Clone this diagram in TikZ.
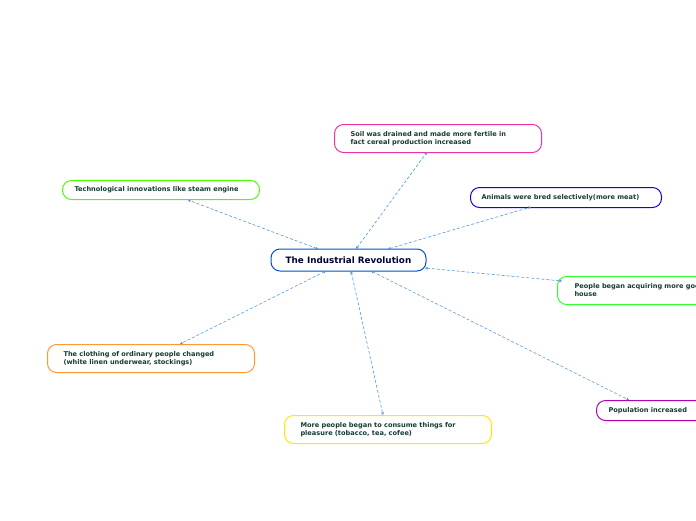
\documentclass[tikz,border=0pt]{standalone}
\usepackage{fontspec}
\setmainfont{DejaVu Sans}
\usetikzlibrary{arrows.meta}
\begin{document}
\begin{tikzpicture}[x=1pt,y=-1pt,
  box/.style={draw,line width=1pt,rounded corners=9pt,anchor=north west,inner ysep=0pt,text=txt,font=\bfseries\fontsize{6.6}{8}\selectfont,align=left},
  link/.style={densely dashed,draw=lnk,line width=0.6pt,{Stealth[length=3pt,width=3pt]}-{Stealth[length=3pt,width=3pt]}}]
\definecolor{txt}{RGB}{20,60,50}
\definecolor{lnk}{RGB}{80,150,220}
\useasboundingbox (0,0) rectangle (696,520);
\clip (0,0) rectangle (696,520);
\node[box,draw=blue!60!cyan!80!black,minimum width=155pt,minimum height=22pt,align=center,anchor=center,text=blue!20!black,font=\bfseries\fontsize{8.8}{10}\selectfont] (c) at (348.5,260) {The Industrial Revolution};
\node[box,inner xsep=16pt,text width=175pt,minimum height=28pt,draw=magenta!80] (soil) at (334,124) {Soil was drained and made more fertile in\\fact cereal production increased};
\node[box,inner xsep=12pt,text width=173pt,minimum height=19pt,draw=green!70!yellow] (tech) at (62,180) {Technological innovations like steam engine};
\node[box,inner xsep=11pt,text width=169pt,minimum height=20pt,draw=blue!80!violet] (anim) at (470,187) {Animals were bred selectively(more meat)};
\node[box,inner xsep=17pt,text width=180pt,minimum height=28pt,draw=green!80] (goods) at (557,276) {People began acquiring more goods for the\\house};
\node[box,inner xsep=12pt,text width=110pt,minimum height=20pt,draw=violet!60!magenta] (pop) at (596,400) {Population increased};
\node[box,inner xsep=16pt,text width=175pt,minimum height=28pt,draw=orange!80] (cloth) at (47,344) {The clothing of ordinary people changed\\(white linen underwear, stockings)};
\node[box,inner xsep=16pt,text width=175pt,minimum height=28pt,draw=yellow!90!orange] (cons) at (284,415) {More people began to consume things for\\pleasure (tobacco, tea, cofee)};
\coordinate (c1) at (318,249); \coordinate (t1) at (188,200);
\coordinate (c2) at (356,249); \coordinate (s1) at (427,152);
\coordinate (c3) at (388,249); \coordinate (a1) at (531,207);
\coordinate (c4) at (425,268); \coordinate (g1) at (562,281);
\coordinate (c5) at (371,271); \coordinate (p1) at (629,400);
\coordinate (c6) at (351,271); \coordinate (m1) at (383,415);
\coordinate (c7) at (326,271); \coordinate (k1) at (180,344);
\draw[link] (c1) -- (t1);
\draw[link] (c2) -- (s1);
\draw[link] (c3) -- (a1);
\draw[link] (c4) -- (g1);
\draw[link] (c5) -- (p1);
\draw[link] (c6) -- (m1);
\draw[link] (c7) -- (k1);
\end{tikzpicture}
\end{document}
